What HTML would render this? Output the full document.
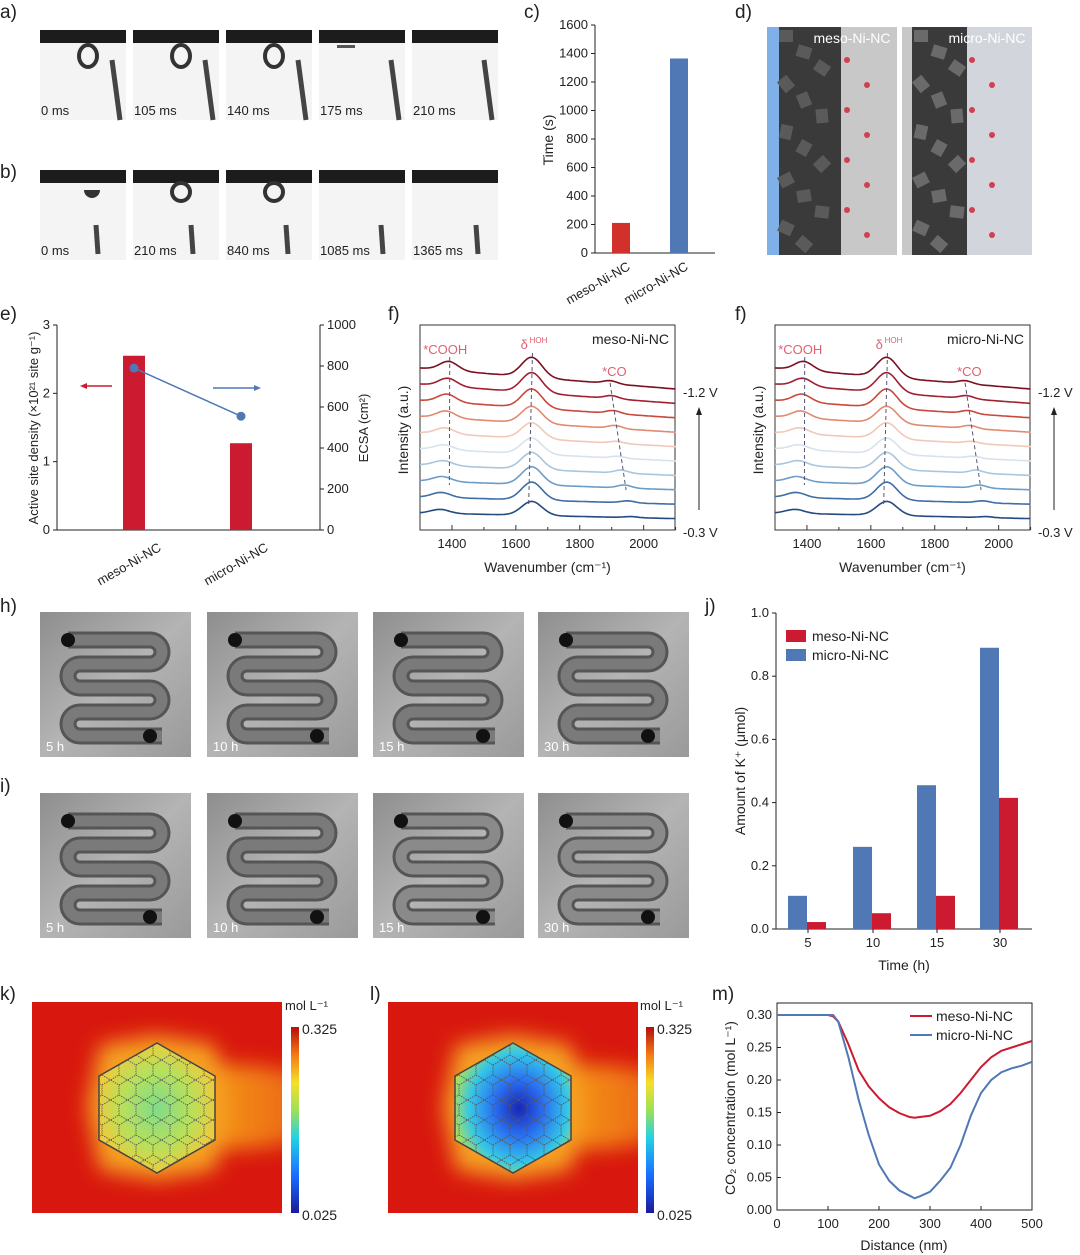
<!DOCTYPE html>
<html><head><meta charset="utf-8">
<style>
html,body{margin:0;padding:0;background:#fff;}
svg{display:block;font-family:"Liberation Sans",Arial,sans-serif;}
</style></head>
<body>
<svg id="fig" width="1080" height="1255" viewBox="0 0 1080 1255" xmlns="http://www.w3.org/2000/svg">
<defs>
<linearGradient id="metal" x1="0" y1="0" x2="1" y2="1">
<stop offset="0" stop-color="#8e8e8e"/><stop offset="0.5" stop-color="#b4b4b4"/><stop offset="1" stop-color="#9a9a9a"/>
</linearGradient>
<linearGradient id="cbar" x1="0" y1="1" x2="0" y2="0">
<stop offset="0" stop-color="#1a1a9a"/><stop offset="0.2" stop-color="#1a6cff"/><stop offset="0.4" stop-color="#22d0e8"/><stop offset="0.55" stop-color="#9be05a"/><stop offset="0.7" stop-color="#f5e02a"/><stop offset="0.85" stop-color="#f57a12"/><stop offset="1" stop-color="#b50d0d"/>
</linearGradient>
<radialGradient id="hexK" cx="0.5" cy="0.5" r="0.6">
<stop offset="0" stop-color="#7fdc8a"/><stop offset="0.5" stop-color="#b8e05a"/><stop offset="0.9" stop-color="#f4c93a"/><stop offset="1" stop-color="#f6a020"/>
</radialGradient>
<radialGradient id="hexL" cx="0.55" cy="0.5" r="0.6">
<stop offset="0" stop-color="#1a26b0"/><stop offset="0.35" stop-color="#2a6ef0"/><stop offset="0.7" stop-color="#34c6e8"/><stop offset="0.95" stop-color="#a6e060"/><stop offset="1" stop-color="#f0d030"/>
</radialGradient>
<linearGradient id="plume" x1="0" y1="0" x2="1" y2="0">
<stop offset="0" stop-color="#f7c830"/><stop offset="0.5" stop-color="#f38a18"/><stop offset="1" stop-color="#e8501a"/>
</linearGradient>
<filter id="blur8" x="-30%" y="-30%" width="160%" height="160%"><feGaussianBlur stdDeviation="10"/></filter>
<clipPath id="clipK"><rect x="32" y="1002" width="250" height="211"/></clipPath>
<clipPath id="clipL"><rect x="388" y="1002" width="250" height="211"/></clipPath>
<pattern id="hexpat" width="17" height="20" patternUnits="userSpaceOnUse">
<path d="M0 5 L8.5 0 L17 5 M8.5 0 V-5 M0 5 V15 L8.5 20 L17 15 V5" fill="none" stroke="#555" stroke-width="0.9" stroke-dasharray="1.5 1"/>
</pattern>
</defs>
<g id="root"></g>
</svg>
<script>
// ---------- data ----------
const cCats = ['meso-Ni-NC','micro-Ni-NC'];
const cValues = [211, 1365];
const cTicks = [0,200,400,600,800,1000,1200,1400,1600];

const eCats = ['meso-Ni-NC','micro-Ni-NC'];
const eDensity = [2.55, 1.27];
const eEcsa = [790, 555];
const eLeftTicks = [0,1,2,3];
const eRightTicks = [0,200,400,600,800,1000];

const jCats = ['5','10','15','30'];
const jMeso = [0.022, 0.05, 0.105, 0.415];
const jMicro = [0.105, 0.26, 0.455, 0.89];
const jTicks = [0.0,0.2,0.4,0.6,0.8,1.0];

const mDist = [0,50,100,110,120,140,160,180,200,220,240,260,270,280,300,320,340,360,380,400,420,440,460,480,500];
const mMeso = [0.30,0.30,0.30,0.298,0.29,0.255,0.215,0.19,0.172,0.158,0.149,0.143,0.142,0.143,0.145,0.152,0.163,0.18,0.2,0.22,0.235,0.245,0.25,0.255,0.26];
const mMicro = [0.30,0.30,0.30,0.30,0.29,0.235,0.17,0.115,0.07,0.045,0.03,0.022,0.018,0.021,0.028,0.045,0.065,0.1,0.145,0.18,0.2,0.212,0.218,0.222,0.228];
const mXTicks = [0,100,200,300,400,500];
const mYTicks = [0.00,0.05,0.10,0.15,0.20,0.25,0.30];

const fColors = ['#7a1020','#a02030','#c8483c','#e08a70','#f1c8b8','#d8e2ec','#a8c6de','#6c9cc8','#3e6ea6','#254a80'];
const fPeakHOH = [20,20,19,17,16,16,17,18,18,14];
const fPeakCOOH = [9,8,8,7,6,5,5,5,5,4];
const fPeakCO = [3,3,3,3,2,2,3,3,2,1];
const fCOpos = [1895,1900,1905,1910,1915,1920,1930,1940,1950,1960];

const ns='http://www.w3.org/2000/svg';
const root=document.getElementById('root');
function el(tag,attrs,parent){const e=document.createElementNS(ns,tag);for(const k in attrs)e.setAttribute(k,attrs[k]);(parent||root).appendChild(e);return e;}
function txt(x,y,s,size,anchor,parent,extra){const t=el('text',Object.assign({x:x,y:y,'font-size':size,'text-anchor':anchor||'start',fill:'#222'},extra||{}),parent);t.textContent=s;return t;}

// ---------- panel labels ----------
[['a)',0,18],['b)',0,178],['c)',524,18],['d)',735,18],['e)',0,320],['f)',388,320],['f)',735,320],['h)',0,612],['i)',0,792],['j)',705,612],['k)',0,1000],['l)',370,1000],['m)',712,1000]].forEach(p=>{
 const t=txt(p[1],p[2],p[0],19,'start');
 
 
});

// ---------- panels a,b: droplet frames ----------
const frameX=[40,133,226,319,412];
const aLab=['0 ms','105 ms','140 ms','175 ms','210 ms'];
const bLab=['0 ms','210 ms','840 ms','1085 ms','1365 ms'];
[[30,aLab,'a'],[170,bLab,'b']].forEach(row=>{
 frameX.forEach((x,i)=>{
  const g=el('g',{});
  
  
  el('rect',{x:x,y:row[0],width:86,height:90,fill:'#f4f4f4'},g);
  el('rect',{x:x,y:row[0],width:86,height:13,fill:'#1c1c1c'},g);
  if(row[2]==='a'){
   if(i<3) el('ellipse',{cx:x+48,cy:row[0]+26,rx:9,ry:11,fill:'none',stroke:'#333','stroke-width':4},g);
   else if(i===3) el('rect',{x:x+18,y:row[0]+15,width:18,height:3,fill:'#555'},g);
   el('line',{x1:x+72,y1:row[0]+30,x2:x+80,y2:row[0]+90,stroke:'#444','stroke-width':5},g);
  } else {
   if(i===1||i===2) el('circle',{cx:x+48,cy:row[0]+22,r:9,fill:'none',stroke:'#333','stroke-width':4},g);
   if(i===0) el('path',{d:`M${x+44} ${row[0]+20} a8 8 0 0 0 16 0 z`,fill:'#333'},g);
   el('line',{x1:x+56+(i*2),y1:row[0]+55,x2:x+58+(i*2),y2:row[0]+84,stroke:'#444','stroke-width':5},g);
  }
  txt(x+1,row[0]+85,row[1][i],13,'start',g);
 });
});

// ---------- panel c ----------
(function(){
 const x0=595,x1=715,y0=253,y1=25,max=1600;
 const Y=v=>y0-(v/max)*(y0-y1);
 const g=el('g',{});
 
 
 el('line',{x1:x0,y1:y1,x2:x0,y2:y0,stroke:'#222'},g);
 el('line',{x1:x0,y1:y0,x2:x1,y2:y0,stroke:'#222'},g);
 cTicks.forEach(t=>{el('line',{x1:x0-4,y1:Y(t),x2:x0,y2:Y(t),stroke:'#222'},g);const l=txt(x0-7,Y(t)+4,String(t),13,'end',g);});
 const cols=['#d2302a','#4f78b5'];
 const cx=[621,679];
 cValues.forEach((v,i)=>{
  const r=el('rect',{x:cx[i]-9,y:Y(v),width:18,height:y0-Y(v),fill:cols[i]},g);
  
  
  const t=txt(cx[i]+10,y0+16,cCats[i],13,'end',g,{transform:`rotate(-30 ${cx[i]+10} ${y0+16})`});
  
  
 });
 const yt=txt(553,140,'Time (s)',14,'middle',g,{transform:'rotate(-90 553 140)'});
 
 
})();

// ---------- panel d ----------
(function(){
 [[767,'meso-Ni-NC','#7fb0e8'],[902,'micro-Ni-NC','#d2d6dc']].forEach((p,i)=>{
  const g=el('g',{});
  
  
  el('rect',{x:p[0],y:27,width:130,height:228,fill:p[2]},g);
  el('rect',{x:p[0]+(i?0:70),y:27,width:60,height:228,fill:'#c8c8c8'},g);
  el('rect',{x:p[0]+(i?10:12),y:27,width:i?55:62,height:228,fill:'#3a3a3a'},g);
  for(let k=0;k<14;k++){el('rect',{x:p[0]+12+(k%3)*18,y:30+k*16,width:14,height:12,fill:i?'#6a6a6a':'#5a5a5a',transform:`rotate(${k*17} ${p[0]+19+(k%3)*18} ${36+k*16})`},g);}
  for(let k=0;k<8;k++){el('circle',{cx:p[0]+(i?70:80)+(k%2)*20,cy:60+k*25,r:3,fill:'#d04050'},g);}
  const t=txt(p[0]+85,43,p[1],14,'middle',g,{fill:'#fff'});
  
  
 });
})();

// ---------- panel e ----------
(function(){
 const x0=57,x1=320,y0=530,y1=325;
 const YL=v=>y0-v/3*(y0-y1), YR=v=>y0-v/1000*(y0-y1);
 const g=el('g',{});
 
 
 el('line',{x1:x0,y1:y1,x2:x0,y2:y0,stroke:'#222'},g);
 el('line',{x1:x1,y1:y1,x2:x1,y2:y0,stroke:'#222'},g);
 el('line',{x1:x0,y1:y0,x2:x1,y2:y0,stroke:'#222'},g);
 eLeftTicks.forEach(t=>{el('line',{x1:x0-4,y1:YL(t),x2:x0,y2:YL(t),stroke:'#222'},g);txt(x0-7,YL(t)+4,String(t),13,'end',g);});
 eRightTicks.forEach(t=>{el('line',{x1:x1,y1:YR(t),x2:x1+4,y2:YR(t),stroke:'#222'},g);txt(x1+7,YR(t)+4,String(t),13,'start',g);});
 const cx=[134,241];
 eDensity.forEach((v,i)=>{
  const r=el('rect',{x:cx[i]-11,y:YL(v),width:22,height:y0-YL(v),fill:'#cc1a30'},g);
  
  
  const t=txt(cx[i]+28,y0+20,eCats[i],13,'end',g,{transform:`rotate(-30 ${cx[i]+28} ${y0+20})`});
  
  
 });
 el('polyline',{points:eEcsa.map((v,i)=>cx[i]+','+YR(v)).join(' '),fill:'none',stroke:'#4f78b5','stroke-width':1.5},g);
 eEcsa.forEach((v,i)=>{const c=el('circle',{cx:cx[i],cy:YR(v),r:4.5,fill:'#4f78b5'},g);});
 el('line',{x1:112,y1:386,x2:83,y2:386,stroke:'#cc1a30','stroke-width':1.5},g);
 el('path',{d:'M80 386 l7 -3 v6 z',fill:'#cc1a30'},g);
 el('line',{x1:213,y1:388,x2:257,y2:388,stroke:'#4f78b5','stroke-width':1.5},g);
 el('path',{d:'M261 388 l-7 -3 v6 z',fill:'#4f78b5'},g);
 const yl=txt(38,428,'Active site density (×10²¹ site g⁻¹)',13,'middle',g,{transform:'rotate(-90 38 428)'});
 
 
 const yr=txt(368,428,'ECSA (cm²)',13,'middle',g,{transform:'rotate(-90 368 428)'});
 
 
})();

// ---------- panels f ----------
function spectra(bx,title,id){
 const x0=bx,x1=bx+255,y0=530,y1=325;
 const X=w=>x0+(w-1300)*0.3195;
 const g=el('g',{});
 
 
 el('rect',{x:x0,y:y1,width:x1-x0,height:y0-y1,fill:'none',stroke:'#333'},g);
 [1400,1600,1800,2000].forEach(w=>{el('line',{x1:X(w),y1:y0,x2:X(w),y2:y0-5,stroke:'#333'},g);txt(X(w),y0+18,String(w),13,'middle',g);});
 [1300,1500,1700,1900,2100].forEach(w=>{el('line',{x1:X(w),y1:y0,x2:X(w),y2:y0-3,stroke:'#333'},g);});
 fColors.forEach((c,i)=>{
  const base=368+i*16.1;
  let pts=[];
  for(let w=1300;w<=2100;w+=8){
   const drift=(1-i/10)*((w-1300)/800)*17+((w-1300)/800)*4;
   const y=base+drift-fPeakHOH[i]*Math.exp(-Math.pow((w-1650)/45,2))-fPeakCOOH[i]*Math.exp(-Math.pow((w-(1390-i*3))/40,2))-fPeakCO[i]*Math.exp(-Math.pow((w-fCOpos[i])/30,2));
   pts.push(X(w).toFixed(1)+','+y.toFixed(1));
  }
  const p=el('polyline',{points:pts.join(' '),fill:'none',stroke:c,'stroke-width':1.6},g);
  
  
 });
 el('line',{x1:X(1393),y1:357,x2:X(1392),y2:485,stroke:'#557',"stroke-dasharray":'4 3'},g);
 el('line',{x1:X(1652),y1:353,x2:X(1640),y2:505,stroke:'#557',"stroke-dasharray":'4 3'},g);
 el('line',{x1:X(1895),y1:383,x2:X(1945),y2:490,stroke:'#557',"stroke-dasharray":'4 3'},g);
 txt(X(1310),354,'*COOH',13,'start',g,{fill:'#e06070'});
 txt(X(1615),349,'δ',13,'start',g,{fill:'#e06070'});
 txt(X(1643),343,'HOH',8,'start',g,{fill:'#e06070'});
 txt(X(1870),376,'*CO',13,'start',g,{fill:'#e06070'});
 const tt=txt(x1-6,344,title,14,'end',g);
 
 
 txt(x1+8,397,'-1.2 V',13,'start',g);
 txt(x1+8,537,'-0.3 V',13,'start',g);
 el('line',{x1:x1+24,y1:510,x2:x1+24,y2:412,stroke:'#222'},g);
 el('path',{d:`M${x1+24} 407 l-3 8 h6 z`,fill:'#222'},g);
 const xl=txt((x0+x1)/2,572,'Wavenumber (cm⁻¹)',14,'middle',g);
 
 
 const yl=txt(x0-12,430,'Intensity (a.u.)',14,'middle',g,{transform:`rotate(-90 ${x0-12} 430)`});
 
 
}
spectra(420,'meso-Ni-NC','f-meso');
spectra(775,'micro-Ni-NC','f-micro');

// ---------- panels h,i: plates ----------
const plateX=[40,207,373,538];
const plateLab=['5 h','10 h','15 h','30 h'];
[[612,'h'],[793,'i']].forEach(row=>{
 plateX.forEach((x,i)=>{
  const g=el('g',{});
  
  
  el('rect',{x:x,y:row[0],width:151,height:145,fill:'url(#metal)'},g);
  const sx=x+28,sy=row[0]+28;
  const d=`M${sx} ${sy} h82 a12 12 0 0 1 0 24 h-70 a12 12 0 0 0 0 24 h70 a12 12 0 0 1 0 24 h-70 a12 12 0 0 0 0 24 h82`;
  el('path',{d:d,fill:'none',stroke:'#555','stroke-width':17},g);
  el('path',{d:d,fill:'none',stroke:(row[1]==='i'&&i>=2)?'#8a8a8a':'#7a7a7a','stroke-width':11},g);
  el('circle',{cx:sx,cy:sy,r:7,fill:'#111'},g);
  el('circle',{cx:sx+82,cy:sy+96,r:7,fill:'#111'},g);
  txt(x+6,row[0]+139,plateLab[i],13,'start',g,{fill:'#fff'});
 });
});

// ---------- panel j ----------
(function(){
 const x0=776,x1=1032,y0=929,y1=613;
 const Y=v=>y0-v*(y0-y1);
 const g=el('g',{});
 
 
 el('line',{x1:x0,y1:y1,x2:x0,y2:y0,stroke:'#222'},g);
 el('line',{x1:x0,y1:y0,x2:x1,y2:y0,stroke:'#222'},g);
 jTicks.forEach(t=>{el('line',{x1:x0-4,y1:Y(t),x2:x0,y2:Y(t),stroke:'#222'},g);txt(x0-7,Y(t)+4,t.toFixed(1),13,'end',g);});
 const gx=[808,873,937,1000];
 jCats.forEach((c,i)=>{
  const b=el('rect',{x:gx[i]-20,y:Y(jMicro[i]),width:19,height:y0-Y(jMicro[i]),fill:'#4f78b5'},g);
  
  
  const r=el('rect',{x:gx[i]-1,y:Y(jMeso[i]),width:19,height:y0-Y(jMeso[i]),fill:'#cc1a30'},g);
  
  
  el('line',{x1:gx[i],y1:y0,x2:gx[i],y2:y0+4,stroke:'#222'},g);
  txt(gx[i],y0+18,c,13,'middle',g);
 });
 el('rect',{x:786,y:630,width:20,height:12,fill:'#cc1a30'},g);
 txt(812,641,'meso-Ni-NC',14,'start',g);
 el('rect',{x:786,y:649,width:20,height:12,fill:'#4f78b5'},g);
 txt(812,660,'micro-Ni-NC',14,'start',g);
 const xl=txt(904,970,'Time (h)',14,'middle',g);
 
 
 const yl=txt(745,771,'Amount of K⁺ (μmol)',14,'middle',g,{transform:'rotate(-90 745 771)'});
 
 
})();

// ---------- panels k,l ----------
[[32,291,'url(#hexK)','k','url(#clipK)'],[388,646,'url(#hexL)','l','url(#clipL)']].forEach(p=>{
 const x=p[0],g=el('g',{});
 
 
 const c=el('g',{'clip-path':p[4]},g);
 el('rect',{x:x,y:1002,width:250,height:211,fill:'#d8180e'},c);
 el('ellipse',{cx:x+200,cy:1107,rx:110,ry:42,fill:'url(#plume)',filter:'url(#blur8)'},c);
 el('polygon',{points:`${x+68},1045 ${x+125},1035 ${x+183},1045 ${x+195},1107 ${x+183},1170 ${x+125},1180 ${x+68},1170 ${x+55},1107`,fill:'#f5a020',filter:'url(#blur8)'},c);
 const hex=`${x+125},1043 ${x+183},1076 ${x+183},1140 ${x+125},1173 ${x+67},1140 ${x+67},1076`;
 el('polygon',{points:hex,fill:p[2],stroke:'#444','stroke-width':1.5},c);
 el('polygon',{points:hex,fill:'url(#hexpat)'},c);
 el('rect',{x:p[1],y:1027,width:8,height:186,fill:'url(#cbar)'},g);
 txt(p[1]-6,1010,'mol L⁻¹',13,'start',g);
 txt(p[1]+11,1034,'0.325',14,'start',g);
 txt(p[1]+11,1220,'0.025',14,'start',g);
});

// ---------- panel m ----------
(function(){
 const x0=777,x1=1032,y0=1210,yTop=1015;
 const X=d=>x0+d/500*(x1-x0), Y=v=>y0-v/0.30*(y0-yTop);
 const g=el('g',{});
 
 
 el('rect',{x:x0,y:1003,width:x1-x0,height:y0-1003,fill:'none',stroke:'#222'},g);
 mXTicks.forEach(t=>{el('line',{x1:X(t),y1:y0,x2:X(t),y2:y0-4,stroke:'#222'},g);txt(X(t),y0+18,String(t),13,'middle',g);});
 mYTicks.forEach(t=>{el('line',{x1:x0,y1:Y(t),x2:x0+4,y2:Y(t),stroke:'#222'},g);txt(x0-5,Y(t)+4,t.toFixed(2),13,'end',g);});
 const a=el('polyline',{points:mDist.map((d,i)=>X(d)+','+Y(mMeso[i])).join(' '),fill:'none',stroke:'#cc1a30','stroke-width':2},g);
 
 
 const b=el('polyline',{points:mDist.map((d,i)=>X(d)+','+Y(mMicro[i])).join(' '),fill:'none',stroke:'#4f78b5','stroke-width':2},g);
 
 
 el('line',{x1:910,y1:1016,x2:932,y2:1016,stroke:'#cc1a30','stroke-width':2},g);
 txt(936,1021,'meso-Ni-NC',14,'start',g);
 el('line',{x1:910,y1:1035,x2:932,y2:1035,stroke:'#4f78b5','stroke-width':2},g);
 txt(936,1040,'micro-Ni-NC',14,'start',g);
 const xl=txt(904,1250,'Distance (nm)',14,'middle',g);
 
 
 const yl=txt(735,1108,'CO₂ concentration (mol L⁻¹)',14,'middle',g,{transform:'rotate(-90 735 1108)'});
 
 
})();
</script>
</body></html>
